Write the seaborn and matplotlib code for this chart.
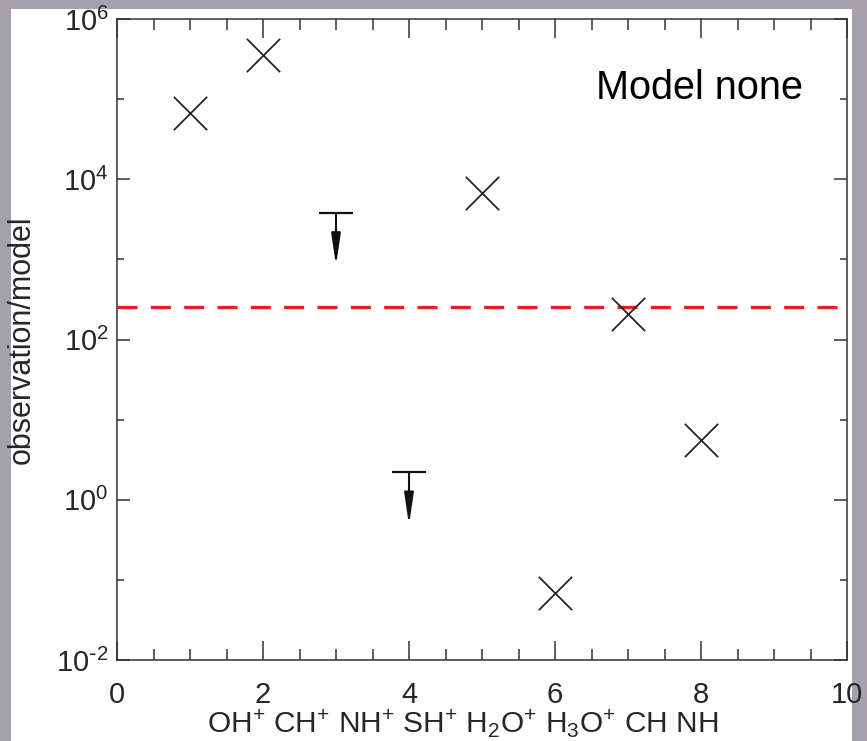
import matplotlib
matplotlib.use("Agg")
import matplotlib.pyplot as plt
import matplotlib.transforms as mtransforms
from matplotlib.patches import Rectangle
from matplotlib.ticker import FixedLocator, NullFormatter, FuncFormatter, MultipleLocator
import seaborn as sns
import pandas as pd
import numpy as np

# ---- data ----
x_detect = [1, 2, 5, 6, 7, 8]
ratio_detect = [6.7e4, 3.6e5, 6.7e3, 0.068, 2.1e2, 5.5]
x_limit = [3, 4]
ratio_limit = [3.8e3, 2.2]
ref_level = 256
species_label = r"OH$^{+}$ CH$^{+}$ NH$^{+}$ SH$^{+}$ H$_{2}$O$^{+}$ H$_{3}$O$^{+}$ CH NH"
model_text = "Model none"
y_major = [1e-2, 1e0, 1e2, 1e4, 1e6]
y_minor = [1e-1, 1e1, 1e3, 1e5]

sns.set_style("ticks")
plt.rcParams["font.family"] = ["Liberation Sans", "DejaVu Sans"]
plt.rcParams["mathtext.default"] = "regular"

fig = plt.figure(figsize=(8.67, 7.41), dpi=100)
fig.patch.set_facecolor("#a5a1aa")
fig.add_artist(Rectangle((11 / 867, 0), (852 - 11) / 867, 1 - 9 / 741,
                         transform=fig.transFigure, facecolor="white",
                         edgecolor="none", zorder=-5))

ax = fig.add_axes([117 / 867, 1 - 660 / 741, 730 / 867, 641 / 741])
ax.set_facecolor("white")

df_det = pd.DataFrame({"x": x_detect, "ratio": ratio_detect})
df_lim = pd.DataFrame({"x": x_limit, "ratio": ratio_limit})

ax.axhline(ref_level, color="#e8201c", lw=2.4, dashes=(6, 4), zorder=2)

sns.scatterplot(data=df_det, x="x", y="ratio", marker="x", s=24 ** 2,
                color="#262626", linewidth=1.3, ax=ax, zorder=3, legend=False)
sns.scatterplot(data=df_lim, x="x", y="ratio", marker="_", s=24 ** 2,
                color="#111111", linewidth=1.6, ax=ax, zorder=3, legend=False)

tip_tr = mtransforms.offset_copy(ax.transData, fig=fig, x=0, y=-38, units="points")
for xv, yv in zip(x_limit, ratio_limit):
    ax.annotate("", xy=(xv, yv), xycoords=tip_tr, xytext=(xv, yv), textcoords="data",
                arrowprops=dict(arrowstyle="-|>,head_length=1.9,head_width=0.28",
                                color="#111111", lw=1.5, shrinkA=0, shrinkB=0),
                zorder=3)


def log_fmt(v, pos):
    e = int(np.round(np.log10(v)))
    if e < 0:
        return r"10$^{\text{-}%d}$" % (-e)
    return r"10$^{%d}$" % e


ax.set_yscale("log")
ax.set_xlim(0, 10)
ax.set_ylim(1e-2, 1e6)
ax.xaxis.set_major_locator(MultipleLocator(2))
ax.xaxis.set_minor_locator(MultipleLocator(0.5))
ax.yaxis.set_major_locator(FixedLocator(y_major))
ax.yaxis.set_major_formatter(FuncFormatter(log_fmt))
ax.yaxis.set_minor_locator(FixedLocator(y_minor))
ax.yaxis.set_minor_formatter(NullFormatter())

for s in ax.spines.values():
    s.set_visible(True)
    s.set_color("#333333")
    s.set_linewidth(1.1)

ax.tick_params(axis="both", which="both", direction="in", top=True, right=True,
               color="#333333", width=1.1)
ax.tick_params(axis="x", which="major", length=14, labelsize=21, pad=15)
ax.tick_params(axis="x", which="minor", length=8)
ax.tick_params(axis="y", which="major", length=9.5, labelsize=21, pad=6)
ax.tick_params(axis="y", which="minor", length=5)

ax.set_xlabel(species_label, fontsize=21.5)
ax.xaxis.set_label_coords(0.474, -0.074)
ax.set_ylabel("observation/model", fontsize=22)
ax.yaxis.set_label_coords(-0.11, 0.5)

ax.text(0.94, 0.892, model_text, transform=ax.transAxes, ha="right", va="center",
        fontsize=28.5, color="black")

fig.savefig("out.png", dpi=100)
